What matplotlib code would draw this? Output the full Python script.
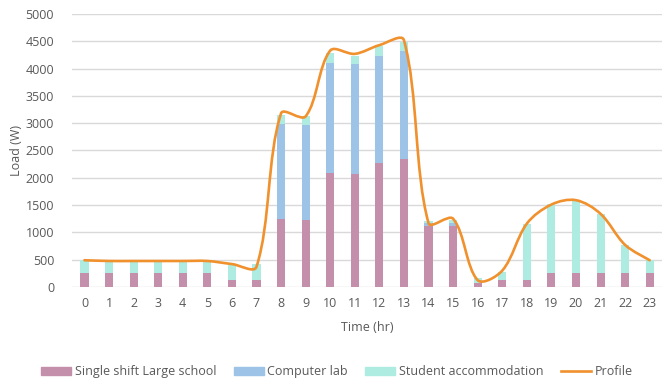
import numpy as np
import matplotlib.pyplot as plt
from matplotlib.path import Path
from matplotlib.patches import PathPatch, Patch
from matplotlib.lines import Line2D

# Data
hours = list(range(24))
school = [250, 250, 250, 250, 250, 250, 120, 120, 1250, 1230, 2080, 2070,
          2270, 2340, 1110, 1110, 80, 120, 120, 250, 250, 250, 250, 250]
lab = [0, 0, 0, 0, 0, 0, 0, 0, 1730, 1730, 2030, 2020,
       1970, 1980, 60, 60, 0, 0, 0, 0, 0, 0, 0, 0]
accommodation = [240, 220, 220, 220, 220, 220, 310, 295, 165, 165, 170, 150,
                 170, 165, 45, 65, 90, 155, 1040, 1265, 1340, 1095, 515, 240]
profile = [490, 476, 476, 476, 476, 476, 420, 370, 3180, 3125, 4330, 4270,
           4430, 4520, 1170, 1250, 125, 300, 1160, 1510, 1590, 1340, 770, 490]

c_school = '#C48FAA'
c_lab = '#9DC3E6'
c_acc = '#AEEBE0'
c_prof = '#F0912E'
text_col = '#595959'

plt.rcParams['font.family'] = ['Open Sans', 'DejaVu Sans']

fig = plt.figure(figsize=(6.62, 3.83), dpi=100)
ax = fig.add_axes([0.109, 0.2507, 0.891, 0.7127])

w = 0.33
ax.bar(hours, school, w, color=c_school, zorder=2)
ax.bar(hours, lab, w, bottom=school, color=c_lab, zorder=2)
bottom2 = np.array(school) + np.array(lab)
ax.bar(hours, accommodation, w, bottom=bottom2, color=c_acc, zorder=2)

# smoothed profile line: bezier through the points, control arms scaled
# by the on-screen segment lengths (like Excel's smoothed line)
sx, sy = 24.6, 27.3 / 500
pts = np.column_stack([hours, profile]).astype(float)
scr = pts * [sx, sy]
n = len(pts)
seg = np.hypot(*np.diff(scr, axis=0).T)
f = 1 / 3
verts = [pts[0]]
codes = [Path.MOVETO]
for i in range(n - 1):
    a, b = max(i - 1, 0), min(i + 2, n - 1)
    d0 = seg[i - 1] if i > 0 else seg[i]
    d1 = seg[i]
    d2 = seg[i + 1] if i + 1 < n - 1 else seg[i]
    t1 = (pts[i + 1] - pts[a]) * f * d1 / (d0 + d1)
    t2 = (pts[b] - pts[i]) * f * d1 / (d1 + d2)
    verts += [pts[i] + t1, pts[i + 1] - t2, pts[i + 1]]
    codes += [Path.CURVE4] * 3
ax.add_patch(PathPatch(Path(verts, codes), fill=False, edgecolor=c_prof,
                       lw=1.9, zorder=3, capstyle='round'))

ax.set_xlim(-0.5, 23.5)
ax.set_ylim(0, 5000)
ax.set_xticks(hours)
ax.set_yticks(range(0, 5001, 500))
ax.grid(axis='y', color='#D9D9D9', lw=1, zorder=0)
ax.set_axisbelow(True)
for s in ax.spines.values():
    s.set_visible(False)
ax.tick_params(length=0, labelsize=9, colors=text_col)
ax.tick_params(axis='y', pad=13)
ax.tick_params(axis='x', pad=7)

ax.set_xlabel('Time (hr)', fontsize=9, color=text_col, labelpad=8)
ax.set_ylabel('Load (W)', fontsize=9, color=text_col, labelpad=2)

handles = [Patch(color=c_school), Patch(color=c_lab), Patch(color=c_acc),
           Line2D([], [], color=c_prof, lw=1.9)]
labels = ['Single shift Large school', 'Computer lab',
          'Student accommodation', 'Profile']
leg = fig.legend(handles, labels, loc='center', bbox_to_anchor=(0.509, 0.029),
                 ncol=4, frameon=False, fontsize=9, handlelength=2.4,
                 handleheight=0.55, handletextpad=0.3, columnspacing=1.4)
for t in leg.get_texts():
    t.set_color(text_col)

fig.savefig('out.png', dpi=100)
